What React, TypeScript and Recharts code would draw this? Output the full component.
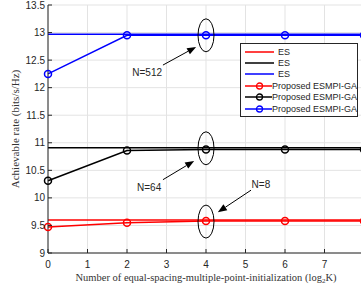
import React from 'react';
import { LineChart, Line, XAxis, YAxis, CartesianGrid, Legend, ReferenceDot, ReferenceLine } from 'recharts';

// x = log2(K)
const xVals = [0, 2, 4, 6, 8];
const esRed = [9.6, 9.6, 9.6, 9.6, 9.6];
const esBlack = [10.91, 10.91, 10.91, 10.91, 10.91];
const esBlue = [12.97, 12.97, 12.97, 12.97, 12.97];
const gaRed = [9.47, 9.55, 9.58, 9.58, 9.58];
const gaBlack = [10.31, 10.86, 10.88, 10.88, 10.88];
const gaBlue = [12.25, 12.95, 12.95, 12.95, 12.95];

const xTicks = [0, 1, 2, 3, 4, 5, 6, 7, 8];
const yTicks = [9, 9.5, 10, 10.5, 11, 11.5, 12, 12.5, 13, 13.5];

const legendItems = [
  { name: 'ES', color: '#ff0000', marker: false },
  { name: 'ES', color: '#000000', marker: false },
  { name: 'ES', color: '#0000ff', marker: false },
  { name: 'Proposed ESMPI-GA', color: '#ff0000', marker: true },
  { name: 'Proposed ESMPI-GA', color: '#000000', marker: true },
  { name: 'Proposed ESMPI-GA', color: '#0000ff', marker: true },
];

// circled points at log2K = 4
const circled = [12.95, 10.9, 9.57];

const notes = [
  { text: 'N=512', tx: 2.51, ty: 12.27, from: [2.91, 12.41], to: [3.75, 12.74] },
  { text: 'N=64', tx: 2.56, ty: 10.18, from: [2.91, 10.33], to: [3.7, 10.67] },
  { text: 'N=8', tx: 5.39, ty: 10.25, from: [5.14, 10.14], to: [4.3, 9.74] },
];

const data = xVals.map((x, i) => ({
  x,
  esRed: esRed[i],
  esBlack: esBlack[i],
  esBlue: esBlue[i],
  gaRed: gaRed[i],
  gaBlack: gaBlack[i],
  gaBlue: gaBlue[i],
}));

const TICK_FONT = { fontFamily: '"Liberation Sans", Arial, sans-serif', fontSize: 10, fill: '#262626' };
const SERIF = '"Liberation Serif", "DejaVu Serif", serif';

const BottomTick = (props: any) => {
  const { x, y, payload } = props;
  if (payload.value > 7) return null;
  return (
    <g>
      <line x1={x} y1={y} x2={x} y2={y - 4} stroke="#262626" />
      <text x={x} y={y + 15} textAnchor="middle" {...TICK_FONT}>{payload.value}</text>
    </g>
  );
};

const TopTick = (props: any) => {
  const { x, y } = props;
  return <line x1={x} y1={y} x2={x} y2={y + 4} stroke="#262626" />;
};

const LeftTick = (props: any) => {
  const { x, y, payload } = props;
  return (
    <g>
      <line x1={x} y1={y} x2={x + 4} y2={y} stroke="#262626" />
      <text x={x - 3} y={y + 3.5} textAnchor="end" {...TICK_FONT}>{payload.value}</text>
    </g>
  );
};

const ArrowShape = (props: any) => {
  const { x1, y1, x2, y2 } = props;
  const ang = Math.atan2(y2 - y1, x2 - x1);
  const len = 9;
  const w = 3.5;
  const bx = x2 - len * Math.cos(ang);
  const by = y2 - len * Math.sin(ang);
  const px = -Math.sin(ang) * w;
  const py = Math.cos(ang) * w;
  return (
    <g>
      <line x1={x1} y1={y1} x2={bx} y2={by} stroke="#000" strokeWidth={1} />
      <polygon points={`${x2},${y2} ${bx + px},${by + py} ${bx - px},${by - py}`} fill="#000" />
    </g>
  );
};

const LegendBox = () => (
  <div
    style={{
      width: 118,
      border: '1px solid #262626',
      background: '#fff',
      padding: '2px 0',
      boxSizing: 'border-box',
    }}
  >
    {legendItems.map((it, i) => (
      <div key={i} style={{ display: 'flex', alignItems: 'center', height: 11.4 }}>
        <svg width={34} height={10} style={{ marginLeft: 3 }}>
          <line x1={1} y1={5} x2={30} y2={5} stroke={it.color} strokeWidth={1.5} />
          {it.marker && <circle cx={15.5} cy={5} r={3} stroke={it.color} strokeWidth={1.3} fill="none" />}
        </svg>
        <span style={{ fontFamily: '"Liberation Sans", Arial, sans-serif', fontSize: 9, color: '#262626', whiteSpace: 'nowrap' }}>
          {it.name}
        </span>
      </div>
    ))}
  </div>
);

const dotStyle = (c: string) => ({ r: 3.5, stroke: c, strokeWidth: 1.5, fill: 'none' });

export default function App() {
  return (
    <div style={{ position: 'absolute', left: 0, top: 0, width: 361, height: 290, overflow: 'hidden', background: '#fff' }}>
      <LineChart width={372} height={290} data={data} margin={{ top: 5, right: 8, left: 0, bottom: 0 }}>
        <CartesianGrid stroke="#e3e3e3" strokeWidth={1} vertical horizontal />
        <XAxis
          dataKey="x"
          type="number"
          domain={[0, 8]}
          ticks={xTicks}
          interval={0}
          height={37}
          tickSize={0}
          tickMargin={0}
          axisLine={{ stroke: '#262626' }}
          tick={<BottomTick />}
          label={{
            content: (p: any) => {
              const vb = p.viewBox;
              return (
                <text x={vb.x + vb.width / 2} y={vb.y + 28} textAnchor="middle" fontFamily={SERIF} fontSize={10.5} fill="#333">
                  Number of equal-spacing-multiple-point-initialization (log
                  <tspan fontSize={7} dy={2}>2</tspan>
                  <tspan dy={-2}>K)</tspan>
                </text>
              );
            },
          }}
        />
        <XAxis
          xAxisId="top"
          orientation="top"
          dataKey="x"
          type="number"
          domain={[0, 8]}
          ticks={xTicks}
          interval={0}
          height={0}
          tickSize={0}
          tickMargin={0}
          axisLine={false}
          tick={<TopTick />}
        />
        <YAxis
          type="number"
          domain={[9, 13.5]}
          ticks={yTicks}
          interval={0}
          width={48}
          tickSize={0}
          tickMargin={0}
          axisLine={{ stroke: '#262626' }}
          tick={<LeftTick />}
          label={{
            content: (p: any) => {
              const vb = p.viewBox;
              const cx = 15;
              const cy = vb.y + vb.height / 2;
              return (
                <text x={cx} y={cy} transform={`rotate(-90 ${cx} ${cy})`} textAnchor="middle" dominantBaseline="central" fontFamily={SERIF} fontSize={11} fill="#333">
                  Achievable rate (bits/s/Hz)
                </text>
              );
            },
          }}
        />
        <Legend
          layout="vertical"
          align="center"
          verticalAlign="middle"
          content={() => <LegendBox />}
          wrapperStyle={{ position: 'absolute', left: 240, top: 43, width: 120, height: 74 }}
        />

        <Line dataKey="esRed" stroke="#ff0000" strokeWidth={1.5} dot={false} isAnimationActive={false} />
        <Line dataKey="esBlack" stroke="#000000" strokeWidth={1.5} dot={false} isAnimationActive={false} />
        <Line dataKey="esBlue" stroke="#0000ff" strokeWidth={1.5} dot={false} isAnimationActive={false} />
        <Line dataKey="gaRed" stroke="#ff0000" strokeWidth={1.5} dot={dotStyle('#ff0000')} isAnimationActive={false} />
        <Line dataKey="gaBlack" stroke="#000000" strokeWidth={1.5} dot={dotStyle('#000000')} isAnimationActive={false} />
        <Line dataKey="gaBlue" stroke="#0000ff" strokeWidth={1.5} dot={dotStyle('#0000ff')} isAnimationActive={false} />

        {circled.map((yv, i) => (
          <ReferenceDot
            key={'e' + i}
            x={4}
            y={yv}
            r={0}
            ifOverflow="visible"
            shape={(p: any) => <ellipse cx={p.cx} cy={p.cy} rx={8} ry={16.5} fill="none" stroke="#000" strokeWidth={1} />}
          />
        ))}
        {notes.map((n, i) => (
          <ReferenceLine
            key={'a' + i}
            segment={[{ x: n.from[0], y: n.from[1] }, { x: n.to[0], y: n.to[1] }]}
            ifOverflow="visible"
            shape={<ArrowShape />}
          />
        ))}
        {notes.map((n, i) => (
          <ReferenceDot
            key={'t' + i}
            x={n.tx}
            y={n.ty}
            r={0}
            ifOverflow="visible"
            shape={(p: any) => (
              <text x={p.cx} y={p.cy + 3.5} textAnchor="middle" {...TICK_FONT}>{n.text}</text>
            )}
          />
        ))}
      </LineChart>
    </div>
  );
}
